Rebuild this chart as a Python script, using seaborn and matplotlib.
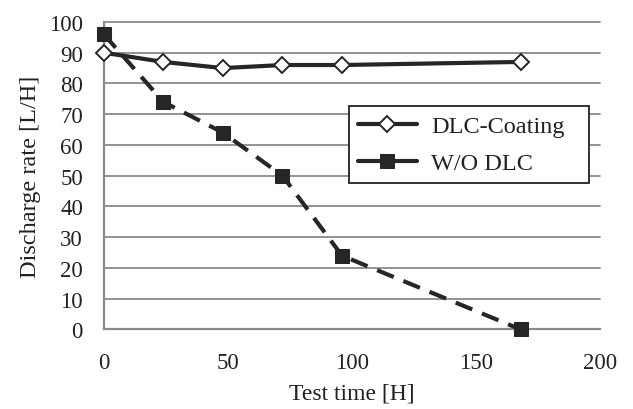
import matplotlib
matplotlib.use("Agg")
import matplotlib.pyplot as plt
import seaborn as sns
import pandas as pd

hours = [0, 24, 48, 72, 96, 168]
dlc_coating = [90, 87, 85, 86, 86, 87]
wo_dlc = [96, 74, 64, 50, 24, 0]
series_names = ["DLC-Coating", "W/O DLC"]
x_ticks = [0, 50, 100, 150, 200]
y_ticks = [0, 10, 20, 30, 40, 50, 60, 70, 80, 90, 100]

sns.set_theme(style="white")
plt.rcParams['font.family'] = ['Liberation Serif', 'DejaVu Serif']

fig = plt.figure(figsize=(6.33, 4.10), dpi=100)
ax = fig.add_axes([0.164, 0.194, 0.784, 0.75])

df1 = pd.DataFrame({"t": hours, "v": dlc_coating})
df2 = pd.DataFrame({"t": hours, "v": wo_dlc})

grid_c = "#8a8a8a"
for y in y_ticks[1:]:
    ax.axhline(y, color=grid_c, lw=1.3, zorder=0)

sns.lineplot(data=df1, x="t", y="v", ax=ax, color="#262626", lw=3.0,
             marker="D", markersize=8.5, markerfacecolor="white",
             markeredgecolor="#262626", markeredgewidth=1.4,
             label=series_names[0], zorder=3)
sns.lineplot(data=df2, x="t", y="v", ax=ax, color="#262626", lw=3.0,
             linestyle=(0, (4.3, 2.5)),
             marker="s", markersize=10, markerfacecolor="#262626",
             markeredgecolor="#262626",
             label=series_names[1], zorder=4)

ax.set_xlim(0, 200)
ax.set_ylim(0, 100)
ax.set_xticks(x_ticks)
ax.set_yticks(y_ticks)
for s in ["top", "right"]:
    ax.spines[s].set_visible(False)
for s in ["left", "bottom"]:
    ax.spines[s].set_color(grid_c)
    ax.spines[s].set_linewidth(1.6)
ax.tick_params(axis="both", which="major", direction="out", length=6,
               width=1.4, color=grid_c, labelsize=16.5, labelcolor="#222222")
ax.tick_params(axis="y", pad=9)
ax.tick_params(axis="x", pad=10)
ax.set_xlabel("Test time [H]", fontsize=17, color="#222222", labelpad=7)
ax.set_ylabel("Discharge rate [L/H]", fontsize=17.5, color="#222222", labelpad=6)
for ln in ax.lines:
    ln.set_clip_on(False)

leg = ax.legend(loc="upper left", bbox_to_anchor=(0.494, 0.47, 0.484, 0.257),
                mode="expand", frameon=True, fancybox=False, fontsize=17.5,
                handlelength=2.4, borderpad=0.38, labelspacing=0.62,
                handletextpad=0.6, borderaxespad=0)
leg.get_frame().set_edgecolor("#222222")
leg.get_frame().set_linewidth(1.3)
leg.get_frame().set_facecolor("white")
leg.get_frame().set_alpha(1)
leg.legend_handles[1].set_linestyle("-")
for t in leg.get_texts():
    t.set_color("#222222")

fig.savefig("out.png", dpi=100, facecolor="white")
